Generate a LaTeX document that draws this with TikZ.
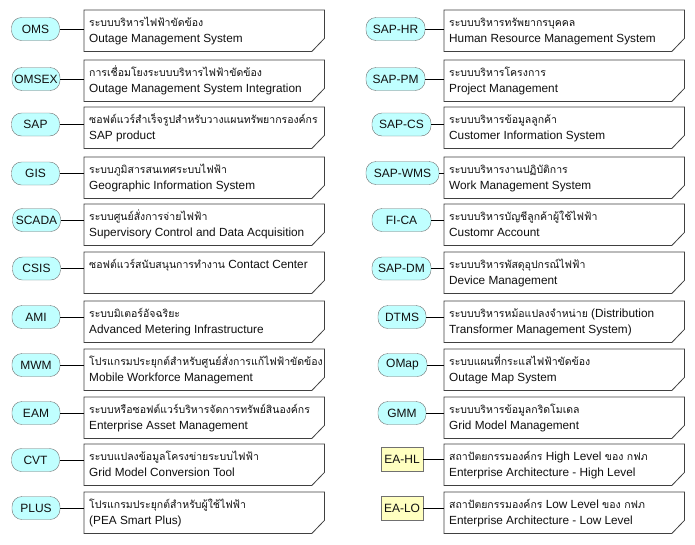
\documentclass[tikz,border=0pt]{standalone}
\usepackage{fontspec}
\setmainfont{Liberation Sans}
\newfontfamily\thfont[Script=Thai]{Loma}
\newcommand\tht[1]{{\thfont\fontsize{10.5}{12}\selectfont #1}}
\definecolor{ovalfill}{HTML}{C0FFFF}
\definecolor{ovalline}{HTML}{707070}
\definecolor{eafill}{HTML}{FFFFC0}
\definecolor{notedraw}{HTML}{404040}
\definecolor{txt}{HTML}{101010}
\tikzset{
  sysoval/.style={draw=ovalline, fill=ovalfill, rounded corners=10pt, minimum height=23pt,
    inner sep=0pt, text=txt, font=\fontsize{12}{12}\selectfont},
  sysrect/.style={draw=ovalline, fill=eafill, minimum height=24pt, minimum width=42pt,
    inner sep=0pt, text=txt, font=\fontsize{12}{12}\selectfont},
  notearea/.style={draw=none, minimum width=240pt, minimum height=41pt, inner sep=0pt, anchor=north west},
  noteline/.style={draw=notedraw, line width=0.8pt, fill=white},
  notetext/.style={anchor=base west, inner sep=0pt, text=txt, font=\fontsize{11.8}{14}\selectfont},
  conn/.style={draw=black, line width=0.8pt},
}
\newcommand\notebox[5]{%
  \node[notearea] (#1) at (#2,#3) {};
  \draw[noteline] (#1.north west) -- (#1.north east) -- ([yshift=13pt]#1.south east)
     -- ([xshift=-12.5pt]#1.south east) -- (#1.south west) -- cycle;
  \node[notetext] (#1-a) at ([xshift=5pt,yshift=-16pt]#1.north west) {#4};
  \node[notetext] (#1-b) at ([xshift=5pt,yshift=-32pt]#1.north west) {#5};
}
\begin{document}
\begin{tikzpicture}[x=1pt,y=-1pt]
\useasboundingbox[fill=white] (0,0) rectangle (695,544);
% ---------- left column ----------
\notebox{omsn}{84}{10}{\tht{ระบบบริหารไฟฟ้าขัดข้อง}}{Outage Management System}
\node[sysoval, minimum width=48pt] (oms) at (35.5,29) {OMS};
\draw[conn] (oms.east) -- (oms.east -| omsn.west);

\notebox{omsexn}{84}{60}{\tht{การเชื่อมโยงระบบบริหารไฟฟ้าขัดข้อง}}{Outage Management System Integration}
\node[sysoval, minimum width=48pt] (omsex) at (36,79) {OMSEX};
\draw[conn] (omsex.east) -- (omsex.east -| omsexn.west);

\notebox{sapn}{84}{107}{\tht{ซอฟต์แวร์สำเร็จรูปสำหรับวางแผนทรัพยากรองค์กร}}{SAP product}
\node[sysoval, minimum width=48pt] (sap) at (35.5,124.5) {SAP};
\draw[conn] (sap.east) -- (sap.east -| sapn.west);

\notebox{gisn}{84}{157}{\tht{ระบบภูมิสารสนเทศระบบไฟฟ้า}}{Geographic Information System}
\node[sysoval, minimum width=48pt] (gis) at (35.5,173.5) {GIS};
\draw[conn] (gis.east) -- (gis.east -| gisn.west);

\notebox{scadan}{84}{204}{\tht{ระบบศูนย์สั่งการจ่ายไฟฟ้า}}{Supervisory Control and Data Acquisition}
\node[sysoval, minimum width=48pt] (scada) at (36.5,220) {SCADA};
\draw[conn] (scada.east) -- (scada.east -| scadan.west);

\notebox{csisn}{84}{252}{\tht{ซอฟต์แวร์สนับสนุนการทำงาน} Contact Center}{}
\node[sysoval, minimum width=48pt] (csis) at (36.5,268.5) {CSIS};
\draw[conn] (csis.east) -- (csis.east -| csisn.west);

\notebox{amin}{84}{301}{\tht{ระบบมิเตอร์อัจฉริยะ}}{Advanced Metering Infrastructure}
\node[sysoval, minimum width=48pt] (ami) at (36,317) {AMI};
\draw[conn] (ami.east) -- (ami.east -| amin.west);

\notebox{mwmn}{84}{349}{\tht{โปรแกรมประยุกต์สำหรับศูนย์สั่งการแก้ไฟฟ้าขัดข้อง}}{Mobile Workforce Management}
\node[sysoval, minimum width=48pt] (mwm) at (36,365) {MWM};
\draw[conn] (mwm.east) -- (mwm.east -| mwmn.west);

\notebox{eamn}{84}{397}{\tht{ระบบหรือซอฟต์แวร์บริหารจัดการทรัพย์สินองค์กร}}{Enterprise Asset Management}
\node[sysoval, minimum width=48pt] (eam) at (36,413) {EAM};
\draw[conn] (eam.east) -- (eam.east -| eamn.west);

\notebox{cvtn}{84}{444}{\tht{ระบบแปลงข้อมูลโครงข่ายระบบไฟฟ้า}}{Grid Model Conversion Tool}
\node[sysoval, minimum width=48pt] (cvt) at (35.5,460) {CVT};
\draw[conn] (cvt.east) -- (cvt.east -| cvtn.west);

\notebox{plusn}{84}{492}{\tht{โปรแกรมประยุกต์สำหรับผู้ใช้ไฟฟ้า}}{(PEA Smart Plus)}
\node[sysoval, minimum width=48pt] (plus) at (36,508) {PLUS};
\draw[conn] (plus.east) -- (plus.east -| plusn.west);

% ---------- right column ----------
\notebox{hrn}{444}{10}{\tht{ระบบบริหารทรัพยากรบุคคล}}{Human Resource Management System}
\node[sysoval, minimum width=59pt] (hr) at (395.5,29) {SAP-HR};
\draw[conn] (hr.east) -- (hr.east -| hrn.west);

\notebox{pmn}{444}{60}{\tht{ระบบบริหารโครงการ}}{Project Management}
\node[sysoval, minimum width=59pt] (pm) at (395.5,79) {SAP-PM};
\draw[conn] (pm.east) -- (pm.east -| pmn.west);

\notebox{csn}{444}{107}{\tht{ระบบบริหารข้อมูลลูกค้า}}{Customer Information System}
\node[sysoval, minimum width=59pt] (cs) at (401.5,124.5) {SAP-CS};
\draw[conn] (cs.east) -- (cs.east -| csn.west);

\notebox{wmsn}{444}{157}{\tht{ระบบบริหารงานปฏิบัติการ}}{Work Management System}
\node[sysoval, minimum width=73pt] (wms) at (402.5,173) {SAP-WMS};
\draw[conn] (wms.east) -- (wms.east -| wmsn.west);

\notebox{fican}{444}{204}{\tht{ระบบบริหารบัญชีลูกค้าผู้ใช้ไฟฟ้า}}{Customr Account}
\node[sysoval, minimum width=59pt] (fica) at (401.5,220) {FI-CA};
\draw[conn] (fica.east) -- (fica.east -| fican.west);

\notebox{dmn}{444}{252}{\tht{ระบบบริหารพัสดุอุปกรณ์ไฟฟ้า}}{Device Management}
\node[sysoval, minimum width=59pt] (dm) at (401.5,268.5) {SAP-DM};
\draw[conn] (dm.east) -- (dm.east -| dmn.west);

\notebox{dtmsn}{444}{301}{\tht{ระบบบริหารหม้อแปลงจำหน่าย} (Distribution}{Transformer Management System)}
\node[sysoval, minimum width=48pt] (dtms) at (402,317) {DTMS};
\draw[conn] (dtms.east) -- (dtms.east -| dtmsn.west);

\notebox{omapn}{444}{349}{\tht{ระบบแผนที่กระแสไฟฟ้าขัดข้อง}}{Outage Map System}
\node[sysoval, minimum width=49pt] (omap) at (402.5,365) {OMap};
\draw[conn] (omap.east) -- (omap.east -| omapn.west);

\notebox{gmmn}{444}{397}{\tht{ระบบบริหารข้อมูลกริดโมเดล}}{Grid Model Management}
\node[sysoval, minimum width=48pt] (gmm) at (402,413) {GMM};
\draw[conn] (gmm.east) -- (gmm.east -| gmmn.west);

\notebox{ehln}{444}{444}{\tht{สถาปัตยกรรมองค์กร} High Level \tht{ของ กฟภ}}{Enterprise Architecture - High Level}
\node[sysrect] (ehl) at (402,459.5) {EA-HL};
\draw[conn] (ehl.east) -- (ehl.east -| ehln.west);

\notebox{elon}{444}{492}{\tht{สถาปัตยกรรมองค์กร} Low Level \tht{ของ กฟภ}}{Enterprise Architecture - Low Level}
\node[sysrect] (elo) at (402,508.5) {EA-LO};
\draw[conn] (elo.east) -- (elo.east -| elon.west);
\end{tikzpicture}
\end{document}
